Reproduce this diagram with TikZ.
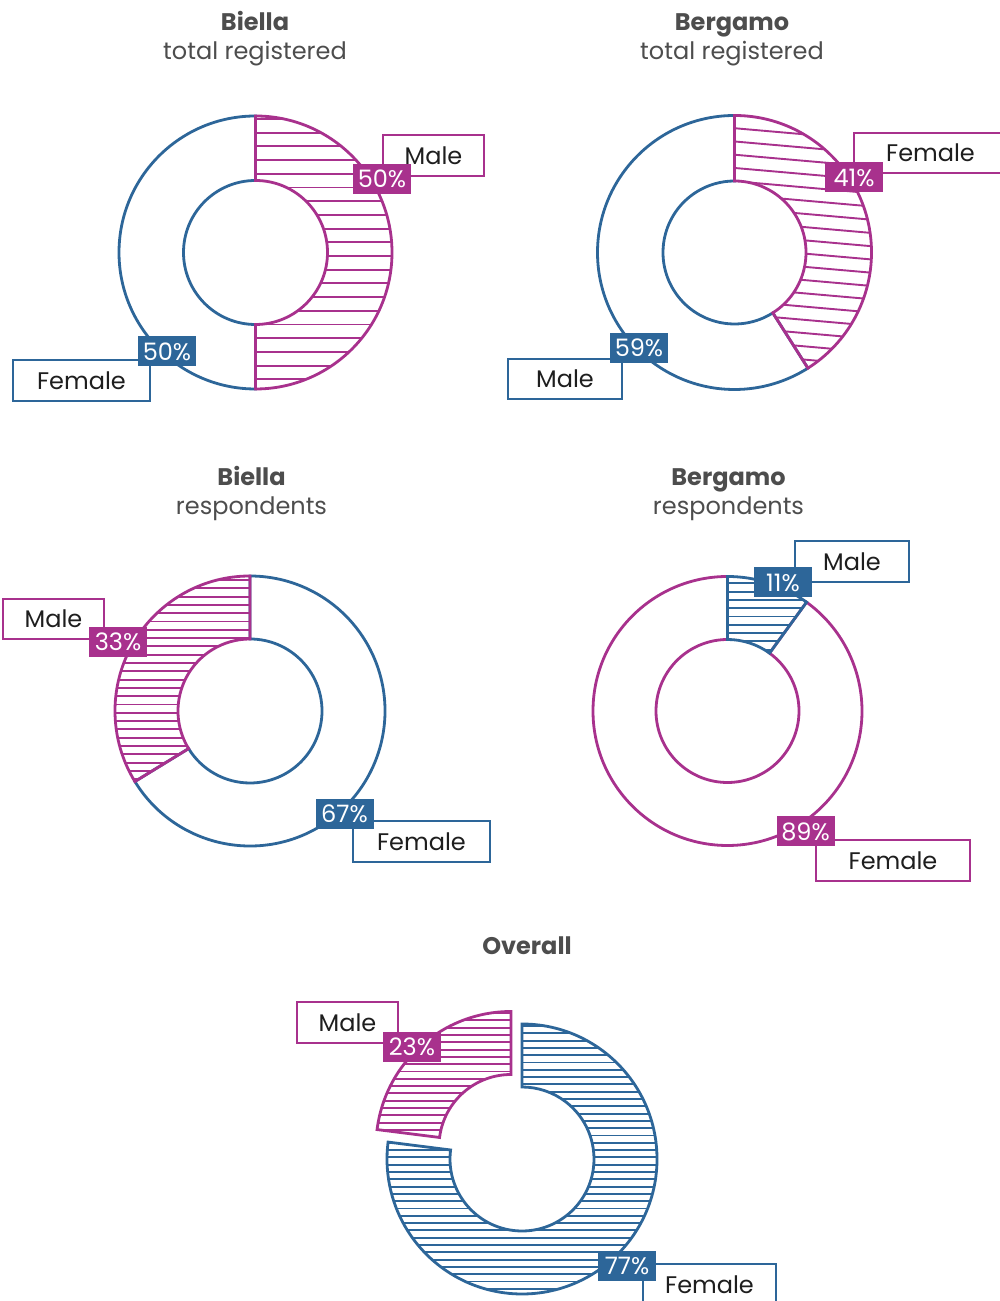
\documentclass[tikz,border=0pt]{standalone}
\usepackage{fontspec}
\setmainfont{Poppins}
\definecolor{mag}{HTML}{A8318D}
\definecolor{blu}{HTML}{2D6699}
\definecolor{ttl}{HTML}{4D4D4D}
\definecolor{txt}{HTML}{1E1E1E}

\tikzset{
  ring/.style={line width=2.8},
  hatch/.style={line width=1.9},
  lblfont/.style={font=\fontsize{24}{28}\selectfont},
  namebox/.style={draw=#1, line width=2.2, fill=white, minimum height=41,
    inner sep=0, text=txt, lblfont},
  pctbox/.style={fill=#1, text=white, minimum width=58, minimum height=30,
    inner sep=0, lblfont},
  titlebold/.style={anchor=base, text=ttl, font=\fontsize{24}{28}\selectfont\bfseries},
  titlesub/.style={anchor=base, text=ttl, lblfont},
}

% outlined ring sector: centre, start angle, end angle, outer r, inner r, colour
\newcommand\plainsector[6]{%
  \draw[ring, draw=#6, shift={#1}]
    (#2:#4) arc[start angle=#2, end angle=#3, radius=#4]
    -- (#3:#5) arc[start angle=#3, end angle=#2, radius=#5] -- cycle;}

% hatched ring sector: centre, start, end, outer r, inner r, colour,
% line spacing, line tilt, line phase
\newcommand\hatchsector[9]{%
  \begin{scope}[shift={#1}]
    \begin{scope}
      \clip (#2:#4) arc[start angle=#2, end angle=#3, radius=#4]
        -- (#3:#5) arc[start angle=#3, end angle=#2, radius=#5] -- cycle;
      \foreach \k in {-25,...,25}
        \draw[hatch, draw=#6, rotate=#8] (-170,#9+\k*#7) -- (170,#9+\k*#7);
    \end{scope}
    \draw[ring, draw=#6]
      (#2:#4) arc[start angle=#2, end angle=#3, radius=#4]
      -- (#3:#5) arc[start angle=#3, end angle=#2, radius=#5] -- cycle;
  \end{scope}}

\begin{document}
\begin{tikzpicture}[x=1pt, y=1pt]
  \useasboundingbox (0,0) rectangle (1000,1301);
  \fill[white] (0,0) rectangle (1000,1301);

  % ---------- Biella, total registered ----------
  \node[titlebold] (t1a) at (255,1270) {Biella};
  \node[titlesub]  (t1b) at (255,1241) {total registered};
  \plainsector{(255.5,1048.5)}{90}{270}{136.5}{72}{blu}
  \hatchsector{(255.5,1048.5)}{90}{-90}{136.5}{72}{mag}{13.7}{0}{10.2}
  \node[namebox=mag, minimum width=101] (c1m) at (433.5,1145.5) {Male};
  \node[pctbox=mag] (c1mp) at (382,1122) {50\%};
  \node[namebox=blu, minimum width=137] (c1f) at (81.5,920.5) {Female};
  \node[pctbox=blu] (c1fp) at (167,949.5) {50\%};

  % ---------- Bergamo, total registered ----------
  \node[titlebold] (t2a) at (732,1270) {Bergamo};
  \node[titlesub]  (t2b) at (732,1241) {total registered};
  \plainsector{(734.5,1048.5)}{90}{302.4}{137}{71.5}{blu}
  \hatchsector{(734.5,1048.5)}{90}{-57.6}{137}{71.5}{mag}{13.2}{-5}{5}
  \node[namebox=mag, minimum width=153, minimum height=40] (c2f) at (930.5,1148) {Female};
  \node[pctbox=mag] (c2fp) at (854,1123.5) {41\%};
  \node[namebox=blu, minimum width=114, minimum height=40] (c2m) at (565,922) {Male};
  \node[pctbox=blu] (c2mp) at (639,953) {59\%};

  % ---------- Biella, respondents ----------
  \node[titlebold] (t3a) at (251.5,815) {Biella};
  \node[titlesub]  (t3b) at (251.5,786) {respondents};
  \plainsector{(250,590)}{211.5}{450}{135}{72}{blu}
  \hatchsector{(250,590)}{90}{211.5}{135}{72}{mag}{8.3}{0}{6.5}
  \node[namebox=mag, minimum width=101, minimum height=40] (c3m) at (53.5,682) {Male};
  \node[pctbox=mag] (c3mp) at (118,659) {33\%};
  \node[namebox=blu, minimum width=137] (c3f) at (421.5,459.5) {Female};
  \node[pctbox=blu] (c3fp) at (344.5,487) {67\%};

  % ---------- Bergamo, respondents ----------
  \node[titlebold] (t4a) at (728.5,815) {Bergamo};
  \node[titlesub]  (t4b) at (728.5,786) {respondents};
  \plainsector{(727.5,590)}{90}{414}{134.5}{71.5}{mag}
  \hatchsector{(727.5,590)}{90}{54}{134.5}{71.5}{blu}{8.3}{0}{3.2}
  \node[namebox=blu, minimum width=114] (c4m) at (852,739.5) {Male};
  \node[pctbox=blu] (c4mp) at (783,718.5) {11\%};
  \node[namebox=mag, minimum width=154] (c4f) at (893,440.5) {Female};
  \node[pctbox=mag] (c4fp) at (805.5,469.5) {89\%};

  % ---------- Overall (exploded) ----------
  \node[titlebold] (t5a) at (527,346) {Overall};
  \hatchsector{(522,142)}{90}{-187.2}{135}{72}{blu}{7.3}{0}{1.6}
  \hatchsector{(511,154.5)}{172.8}{90}{135}{72}{mag}{7.3}{0}{2}
  \node[namebox=mag, minimum width=101] (c5m) at (347.5,278.5) {Male};
  \node[pctbox=mag] (c5mp) at (412,254) {23\%};
  \node[namebox=blu, minimum width=133] (c5f) at (709.5,16.5) {Female};
  \node[pctbox=blu] (c5fp) at (627,35) {77\%};
\end{tikzpicture}
\end{document}
